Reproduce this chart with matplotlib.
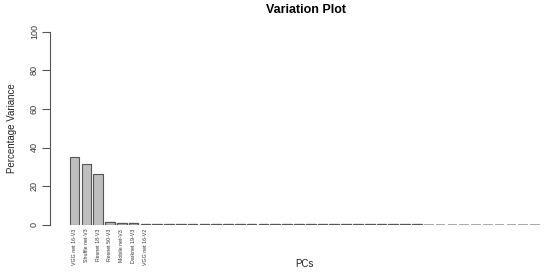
import matplotlib
matplotlib.use("Agg")
import matplotlib.pyplot as plt

# Percentage variance per PC
variance = [35.2, 31.4, 26.2, 1.5, 0.9, 0.8, 0.6,
            0.45, 0.45, 0.4, 0.4, 0.4, 0.35, 0.35, 0.35, 0.3, 0.3, 0.3,
            0.3, 0.3, 0.25, 0.25, 0.25, 0.25, 0.25, 0.2, 0.2, 0.2, 0.2,
            0.2, 0.1, 0.1, 0.1, 0.1, 0.1, 0.1, 0.1, 0.1, 0.1, 0.1]
names = ["VGG net 16-V3", "Shuffle net-V3", "Resnet 18-V3", "Resnet 50-V3",
         "Mobile net-V3", "Darknet 19-V3", "VGG net 16-V2"]
yticks = [0, 20, 40, 60, 80, 100]

plt.rcParams['font.family'] = ['Liberation Sans', 'DejaVu Sans']

fig = plt.figure(figsize=(5.5, 2.75), dpi=100)
ax = fig.add_axes([50 / 550, 50.3 / 275, 498 / 550, 193 / 275])

x = list(range(len(variance)))
edges = ['#555555' if v > 0.15 else '#999999' for v in variance]
widths = [0.8 if v > 2 else (0.95 if v > 0.15 else 1.2) for v in variance]
ax.bar(x, variance, width=0.82, color='#bebebe', edgecolor=edges,
       linewidth=widths)

ax.set_xlim(-2.08, 40.1)
ax.set_ylim(0, 100)

# R-style axes: only the y axis drawn
for s in ['top', 'right', 'bottom']:
    ax.spines[s].set_visible(False)
ax.spines['left'].set_color('#555555')
ax.spines['left'].set_linewidth(0.8)
ax.set_yticks(yticks)
ax.set_yticklabels([str(t) for t in yticks], rotation=90, va='center',
                   fontsize=6.5, color='#333333')
ax.tick_params(axis='y', length=6, width=0.8, color='#555555', pad=2)

ax.set_xticks(x[:len(names)])
ax.set_xticklabels(names, rotation=90, fontsize=3.8, color='#333333')
ax.tick_params(axis='x', length=0, pad=3)

fig.text(306 / 550, 1 - 10 / 275, 'Variation Plot', ha='center', va='center',
         fontsize=9, fontweight='bold')
fig.text(304.5 / 550, 1 - 264 / 275, 'PCs', ha='center', va='center',
         fontsize=7, color='#222222')
fig.text(12 / 550, 1 - 128 / 275, 'Percentage Variance', ha='center',
         va='center', rotation=90, fontsize=7, color='#222222')

fig.savefig('out.png', dpi=100)
